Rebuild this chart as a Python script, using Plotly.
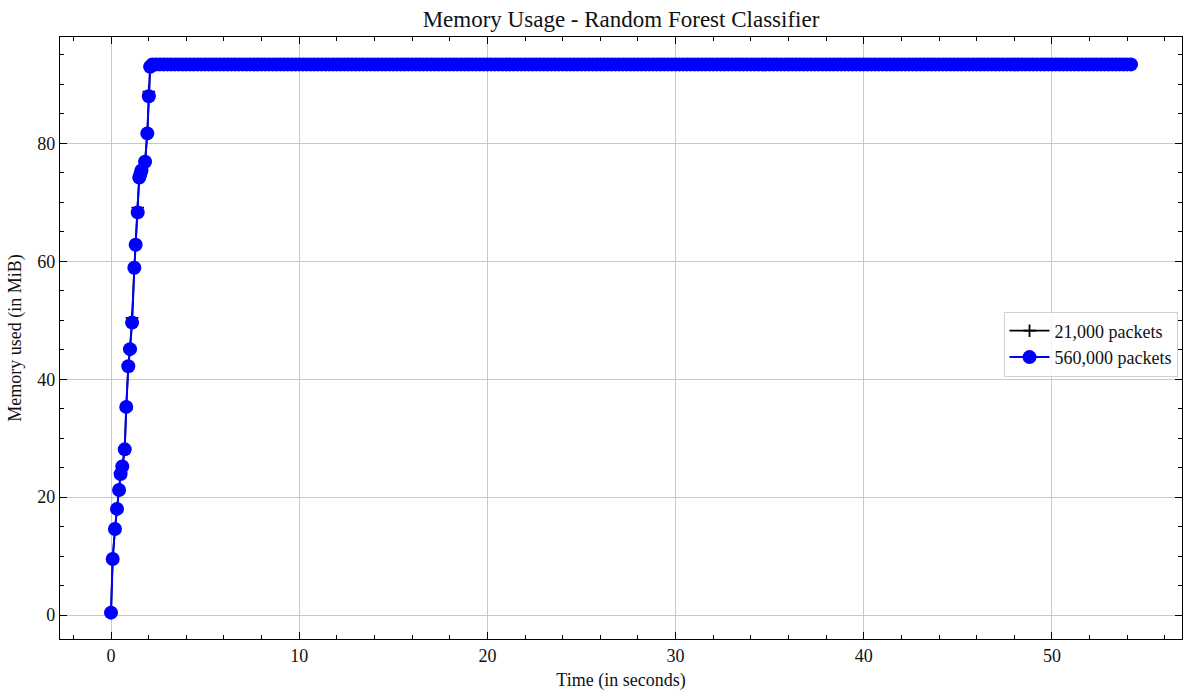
import plotly.graph_objects as go

# memory_profiler samples: elapsed time (s) and memory in use (MiB)
ramp_time = [0.00, 0.09, 0.21, 0.32, 0.43, 0.51, 0.60, 0.73, 0.81, 0.92, 1.01,
             1.12, 1.24, 1.31, 1.42, 1.50, 1.56, 1.62, 1.81, 1.93, 2.01, 2.08]
ramp_mem_560k = [0.4, 9.5, 14.6, 18.0, 21.2, 23.9, 25.2, 28.1, 35.3, 42.2, 45.1,
                 49.6, 58.9, 62.8, 68.3, 74.2, 74.8, 75.4, 76.9, 81.7, 88.0, 93.0]
ramp_mem_21k = [0.4, 9.5, 14.6, 18.0, 21.2, 23.9, 25.2, 28.1, 35.3, 42.2, 45.1,
                50.4, 58.9, 62.8, 69.1, 74.2, 74.8, 75.4, 76.9, 81.7, 88.8, 93.0]

# steady-state samples after the model has been loaded
plateau_time = [
    2.2, 2.4, 2.6, 2.8, 3.0, 3.2, 3.4, 3.6, 3.8, 4.0, 4.2, 4.4, 4.6, 4.8, 5.0, 5.2, 5.4, 5.6, 5.8, 6.0,
    6.2, 6.4, 6.6, 6.8, 7.0, 7.2, 7.4, 7.6, 7.8, 8.0, 8.2, 8.4, 8.6, 8.8, 9.0, 9.2, 9.4, 9.6, 9.8, 10.0,
    10.2, 10.4, 10.6, 10.8, 11.0, 11.2, 11.4, 11.6, 11.8, 12.0, 12.2, 12.4, 12.6, 12.8, 13.0, 13.2, 13.4,
    13.6, 13.8, 14.0, 14.2, 14.4, 14.6, 14.8, 15.0, 15.2, 15.4, 15.6, 15.8, 16.0, 16.2, 16.4, 16.6, 16.8,
    17.0, 17.2, 17.4, 17.6, 17.8, 18.0, 18.2, 18.4, 18.6, 18.8, 19.0, 19.2, 19.4, 19.6, 19.8, 20.0, 20.2,
    20.4, 20.6, 20.8, 21.0, 21.2, 21.4, 21.6, 21.8, 22.0, 22.2, 22.4, 22.6, 22.8, 23.0, 23.2, 23.4, 23.6,
    23.8, 24.0, 24.2, 24.4, 24.6, 24.8, 25.0, 25.2, 25.4, 25.6, 25.8, 26.0, 26.2, 26.4, 26.6, 26.8, 27.0,
    27.2, 27.4, 27.6, 27.8, 28.0, 28.2, 28.4, 28.6, 28.8, 29.0, 29.2, 29.4, 29.6, 29.8, 30.0, 30.2, 30.4,
    30.6, 30.8, 31.0, 31.2, 31.4, 31.6, 31.8, 32.0, 32.2, 32.4, 32.6, 32.8, 33.0, 33.2, 33.4, 33.6, 33.8,
    34.0, 34.2, 34.4, 34.6, 34.8, 35.0, 35.2, 35.4, 35.6, 35.8, 36.0, 36.2, 36.4, 36.6, 36.8, 37.0, 37.2,
    37.4, 37.6, 37.8, 38.0, 38.2, 38.4, 38.6, 38.8, 39.0, 39.2, 39.4, 39.6, 39.8, 40.0, 40.2, 40.4, 40.6,
    40.8, 41.0, 41.2, 41.4, 41.6, 41.8, 42.0, 42.2, 42.4, 42.6, 42.8, 43.0, 43.2, 43.4, 43.6, 43.8, 44.0,
    44.2, 44.4, 44.6, 44.8, 45.0, 45.2, 45.4, 45.6, 45.8, 46.0, 46.2, 46.4, 46.6, 46.8, 47.0, 47.2, 47.4,
    47.6, 47.8, 48.0, 48.2, 48.4, 48.6, 48.8, 49.0, 49.2, 49.4, 49.6, 49.8, 50.0, 50.2, 50.4, 50.6, 50.8,
    51.0, 51.2, 51.4, 51.6, 51.8, 52.0, 52.2, 52.4, 52.6, 52.8, 53.0, 53.2, 53.4, 53.6, 53.8, 54.0, 54.2,
]
plateau_mem = [
    93.4, 93.4, 93.4, 93.4, 93.4, 93.4, 93.4, 93.4, 93.4, 93.4, 93.4, 93.4, 93.4, 93.4, 93.4, 93.4, 93.4,
    93.4, 93.4, 93.4, 93.4, 93.4, 93.4, 93.4, 93.4, 93.4, 93.4, 93.4, 93.4, 93.4, 93.4, 93.4, 93.4, 93.4,
    93.4, 93.4, 93.4, 93.4, 93.4, 93.4, 93.4, 93.4, 93.4, 93.4, 93.4, 93.4, 93.4, 93.4, 93.4, 93.4, 93.4,
    93.4, 93.4, 93.4, 93.4, 93.4, 93.4, 93.4, 93.4, 93.4, 93.4, 93.4, 93.4, 93.4, 93.4, 93.4, 93.4, 93.4,
    93.4, 93.4, 93.4, 93.4, 93.4, 93.4, 93.4, 93.4, 93.4, 93.4, 93.4, 93.4, 93.4, 93.4, 93.4, 93.4, 93.4,
    93.4, 93.4, 93.4, 93.4, 93.4, 93.4, 93.4, 93.4, 93.4, 93.4, 93.4, 93.4, 93.4, 93.4, 93.4, 93.4, 93.4,
    93.4, 93.4, 93.4, 93.4, 93.4, 93.4, 93.4, 93.4, 93.4, 93.4, 93.4, 93.4, 93.4, 93.4, 93.4, 93.4, 93.4,
    93.4, 93.4, 93.4, 93.4, 93.4, 93.4, 93.4, 93.4, 93.4, 93.4, 93.4, 93.4, 93.4, 93.4, 93.4, 93.4, 93.4,
    93.4, 93.4, 93.4, 93.4, 93.4, 93.4, 93.4, 93.4, 93.4, 93.4, 93.4, 93.4, 93.4, 93.4, 93.4, 93.4, 93.4,
    93.4, 93.4, 93.4, 93.4, 93.4, 93.4, 93.4, 93.4, 93.4, 93.4, 93.4, 93.4, 93.4, 93.4, 93.4, 93.4, 93.4,
    93.4, 93.4, 93.4, 93.4, 93.4, 93.4, 93.4, 93.4, 93.4, 93.4, 93.4, 93.4, 93.4, 93.4, 93.4, 93.4, 93.4,
    93.4, 93.4, 93.4, 93.4, 93.4, 93.4, 93.4, 93.4, 93.4, 93.4, 93.4, 93.4, 93.4, 93.4, 93.4, 93.4, 93.4,
    93.4, 93.4, 93.4, 93.4, 93.4, 93.4, 93.4, 93.4, 93.4, 93.4, 93.4, 93.4, 93.4, 93.4, 93.4, 93.4, 93.4,
    93.4, 93.4, 93.4, 93.4, 93.4, 93.4, 93.4, 93.4, 93.4, 93.4, 93.4, 93.4, 93.4, 93.4, 93.4, 93.4, 93.4,
    93.4, 93.4, 93.4, 93.4, 93.4, 93.4, 93.4, 93.4, 93.4, 93.4, 93.4, 93.4, 93.4, 93.4, 93.4, 93.4, 93.4,
    93.4, 93.4, 93.4, 93.4, 93.4, 93.4,
]

series_names = ["21,000 packets", "560,000 packets"]

t_all = ramp_time + plateau_time
mem_21k = ramp_mem_21k + plateau_mem[:len(plateau_time)]
mem_560k = ramp_mem_560k + plateau_mem[:len(plateau_time)]

FONT = "Liberation Serif, DejaVu Serif, serif"
INK = "#111"

fig = go.Figure()
fig.add_trace(go.Scatter(
    x=t_all, y=mem_21k, name=series_names[0], mode="lines+markers",
    line=dict(color="black", width=1.8),
    marker=dict(symbol="cross-thin", size=9, line=dict(color="black", width=1.8)),
))
fig.add_trace(go.Scatter(
    x=t_all, y=mem_560k, name=series_names[1], mode="lines+markers",
    line=dict(color="#0000ff", width=2),
    marker=dict(symbol="circle", size=14, color="#0000ff", line=dict(width=0)),
))

axis_common = dict(
    showline=True, linecolor="black", linewidth=1.2, mirror="allticks",
    ticks="inside", ticklen=7, tickwidth=1, tickcolor="black",
    showgrid=True, gridcolor="#c8c8c8", gridwidth=1, zeroline=False,
    tickfont=dict(family=FONT, size=18, color=INK),
)

fig.update_xaxes(
    **axis_common, range=[-2.71, 56.91], dtick=10, tick0=0,
    minor=dict(dtick=2, tick0=0, ticks="inside", ticklen=3.5, tickcolor="black", showgrid=False),
    title=dict(text="Time (in seconds)", font=dict(family=FONT, size=18, color=INK), standoff=8),
)
fig.update_yaxes(
    **axis_common, range=[-4.07, 98.05], dtick=20, tick0=0,
    minor=dict(dtick=5, tick0=0, ticks="inside", ticklen=3.5, tickcolor="black", showgrid=False),
    title=dict(text="Memory used (in MiB)", font=dict(family=FONT, size=18, color=INK), standoff=10),
)

fig.update_layout(
    width=1186, height=691,
    margin=dict(l=60, r=4, t=37, b=52),
    paper_bgcolor="white", plot_bgcolor="white",
    title=dict(text="Memory Usage - Random Forest Classifier", xref="paper", x=0.5,
               xanchor="center", y=0.973, yanchor="middle",
               font=dict(family=FONT, size=23, color=INK)),
    legend=dict(x=0.996, xanchor="right", y=0.49, yanchor="middle",
                bgcolor="rgba(255,255,255,0.8)", bordercolor="#d0d0d0", borderwidth=1,
                font=dict(family=FONT, size=18, color=INK), itemwidth=40,
                tracegroupgap=4),
    showlegend=True,
)

fig.write_html("out.html")
